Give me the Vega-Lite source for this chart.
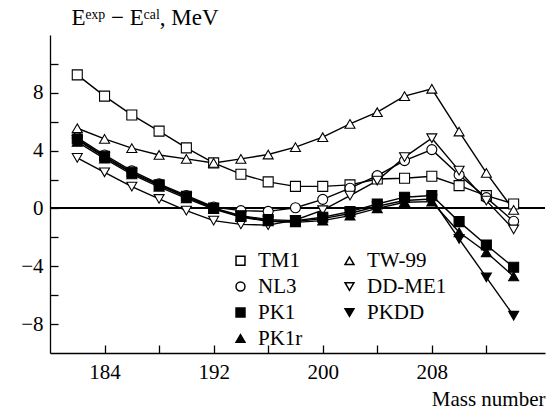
{
  "$schema": "https://vega.github.io/schema/vega-lite/v6.json",
  "width": 495,
  "height": 318,
  "autosize": {"type": "none"},
  "padding": {"left": 50, "top": 35, "right": 4, "bottom": 59},
  "config": {
    "view": {"stroke": null},
    "font": "Liberation Serif"
  },
  "data": {"values": [
    {"model":"TM1","A":182,"dE":9.24},{"model":"TM1","A":184,"dE":7.77},{"model":"TM1","A":186,"dE":6.47},{"model":"TM1","A":188,"dE":5.35},{"model":"TM1","A":190,"dE":4.19},{"model":"TM1","A":192,"dE":3.15},{"model":"TM1","A":194,"dE":2.37},{"model":"TM1","A":196,"dE":1.84},{"model":"TM1","A":198,"dE":1.53},{"model":"TM1","A":200,"dE":1.53},{"model":"TM1","A":202,"dE":1.63},{"model":"TM1","A":204,"dE":2.04},{"model":"TM1","A":206,"dE":2.09},{"model":"TM1","A":208,"dE":2.23},{"model":"TM1","A":210,"dE":1.58},{"model":"TM1","A":212,"dE":0.89},{"model":"TM1","A":214,"dE":0.31},
    {"model":"TW-99","A":182,"dE":5.55},{"model":"TW-99","A":184,"dE":4.81},{"model":"TW-99","A":186,"dE":4.17},{"model":"TW-99","A":188,"dE":3.7},{"model":"TW-99","A":190,"dE":3.43},{"model":"TW-99","A":192,"dE":3.15},{"model":"TW-99","A":194,"dE":3.43},{"model":"TW-99","A":196,"dE":3.73},{"model":"TW-99","A":198,"dE":4.24},{"model":"TW-99","A":200,"dE":4.93},{"model":"TW-99","A":202,"dE":5.85},{"model":"TW-99","A":204,"dE":6.66},{"model":"TW-99","A":206,"dE":7.77},{"model":"TW-99","A":208,"dE":8.28},{"model":"TW-99","A":210,"dE":5.32},{"model":"TW-99","A":212,"dE":2.46},{"model":"TW-99","A":214,"dE":-0.1},
    {"model":"NL3","A":182,"dE":4.9},{"model":"NL3","A":184,"dE":3.7},{"model":"NL3","A":186,"dE":2.6},{"model":"NL3","A":188,"dE":1.7},{"model":"NL3","A":190,"dE":0.9},{"model":"NL3","A":192,"dE":0.1},{"model":"NL3","A":194,"dE":-0.15},{"model":"NL3","A":196,"dE":-0.2},{"model":"NL3","A":198,"dE":0.05},{"model":"NL3","A":200,"dE":0.63},{"model":"NL3","A":202,"dE":1.4},{"model":"NL3","A":204,"dE":2.27},{"model":"NL3","A":206,"dE":3.31},{"model":"NL3","A":208,"dE":4.07},{"model":"NL3","A":210,"dE":2.32},{"model":"NL3","A":212,"dE":0.75},{"model":"NL3","A":214,"dE":-0.89},
    {"model":"DD-ME1","A":182,"dE":3.5},{"model":"DD-ME1","A":184,"dE":2.5},{"model":"DD-ME1","A":186,"dE":1.51},{"model":"DD-ME1","A":188,"dE":0.66},{"model":"DD-ME1","A":190,"dE":-0.15},{"model":"DD-ME1","A":192,"dE":-0.84},{"model":"DD-ME1","A":194,"dE":-1.1},{"model":"DD-ME1","A":196,"dE":-1.15},{"model":"DD-ME1","A":198,"dE":-0.8},{"model":"DD-ME1","A":200,"dE":-0.12},{"model":"DD-ME1","A":202,"dE":0.89},{"model":"DD-ME1","A":204,"dE":1.93},{"model":"DD-ME1","A":206,"dE":3.55},{"model":"DD-ME1","A":208,"dE":4.86},{"model":"DD-ME1","A":210,"dE":2.62},{"model":"DD-ME1","A":212,"dE":0.54},{"model":"DD-ME1","A":214,"dE":-1.45},
    {"model":"PK1","A":182,"dE":4.81},{"model":"PK1","A":184,"dE":3.61},{"model":"PK1","A":186,"dE":2.5},{"model":"PK1","A":188,"dE":1.63},{"model":"PK1","A":190,"dE":0.84},{"model":"PK1","A":192,"dE":0.03},{"model":"PK1","A":194,"dE":-0.5},{"model":"PK1","A":196,"dE":-0.77},{"model":"PK1","A":198,"dE":-0.84},{"model":"PK1","A":200,"dE":-0.61},{"model":"PK1","A":202,"dE":-0.22},{"model":"PK1","A":204,"dE":0.31},{"model":"PK1","A":206,"dE":0.78},{"model":"PK1","A":208,"dE":0.89},{"model":"PK1","A":210,"dE":-0.91},{"model":"PK1","A":212,"dE":-2.53},{"model":"PK1","A":214,"dE":-4.07},
    {"model":"PKDD","A":182,"dE":4.75},{"model":"PKDD","A":184,"dE":3.55},{"model":"PKDD","A":186,"dE":2.45},{"model":"PKDD","A":188,"dE":1.6},{"model":"PKDD","A":190,"dE":0.78},{"model":"PKDD","A":192,"dE":0.0},{"model":"PKDD","A":194,"dE":-0.55},{"model":"PKDD","A":196,"dE":-0.85},{"model":"PKDD","A":198,"dE":-0.9},{"model":"PKDD","A":200,"dE":-0.7},{"model":"PKDD","A":202,"dE":-0.35},{"model":"PKDD","A":204,"dE":0.15},{"model":"PKDD","A":206,"dE":0.55},{"model":"PKDD","A":208,"dE":0.65},{"model":"PKDD","A":210,"dE":-2.11},{"model":"PKDD","A":212,"dE":-4.77},{"model":"PKDD","A":214,"dE":-7.42},
    {"model":"PK1r","A":182,"dE":4.6},{"model":"PK1r","A":184,"dE":3.45},{"model":"PK1r","A":186,"dE":2.35},{"model":"PK1r","A":188,"dE":1.5},{"model":"PK1r","A":190,"dE":0.7},{"model":"PK1r","A":192,"dE":-0.05},{"model":"PK1r","A":194,"dE":-0.6},{"model":"PK1r","A":196,"dE":-0.89},{"model":"PK1r","A":198,"dE":-0.96},{"model":"PK1r","A":200,"dE":-0.84},{"model":"PK1r","A":202,"dE":-0.5},{"model":"PK1r","A":204,"dE":0.01},{"model":"PK1r","A":206,"dE":0.43},{"model":"PK1r","A":208,"dE":0.47},{"model":"PK1r","A":210,"dE":-1.65},{"model":"PK1r","A":212,"dE":-3.03},{"model":"PK1r","A":214,"dE":-4.7}
  ]},
  "encoding": {
    "x": {"field": "A", "type": "quantitative", "scale": {"domain": [180, 216.3], "nice": false, "zero": false},
      "axis": {"values": [184, 188, 192, 196, 200, 204, 208, 212], "labelExpr": "datum.value % 8 == 0 ? datum.label : ''", "tickSize": -8, "labelPadding": 16, "title": "Mass number", "titleAnchor": "end", "titleAlign": "right", "titleX": 495, "titleY": 52, "titleBaseline": "alphabetic", "labelFlush": false, "grid": false,
        "domainColor": "black", "domainWidth": 1.3, "tickColor": "black", "tickWidth": 1.3, "labelColor": "black", "titleColor": "black", "labelFont": "Liberation Serif", "titleFont": "Liberation Serif", "labelFontSize": 21, "titleFontSize": 21, "titleFontWeight": "normal"}},
    "y": {"field": "dE", "type": "quantitative", "scale": {"domain": [-10, 12], "nice": false, "zero": false},
      "axis": {"values": [-8, -6, -4, -2, 0, 2, 4, 6, 8, 10], "labelExpr": "datum.value % 4 == 0 ? (datum.value < 0 ? '−' + abs(datum.value) : '' + datum.value) : ''", "tickSize": -8, "labelPadding": 15, "title": "Eᵉˣᵖ − Eᶜᵃˡ, MeV", "titleAngle": 0, "titleAlign": "left", "titleBaseline": "alphabetic", "titleX": 21, "titleY": -11, "labelFlush": false, "grid": false,
        "domainColor": "black", "domainWidth": 1.3, "tickColor": "black", "tickWidth": 1.3, "labelColor": "black", "titleColor": "black", "labelFont": "Liberation Serif", "titleFont": "Liberation Serif", "labelFontSize": 21, "titleFontSize": 23, "titleFontWeight": "normal"}}
  },
  "layer": [
    {"mark": {"type": "rule", "color": "black", "strokeWidth": 1.3}, "encoding": {"x": {"datum": 180}, "x2": {"datum": 216.3}, "y": {"datum": 0}}},
    {"mark": {"type": "line", "color": "black", "strokeWidth": 1.4}, "encoding": {"detail": {"field": "model"}}},
    {"mark": {"type": "point", "stroke": "black", "strokeWidth": 1.1, "opacity": 1, "filled": false},
      "encoding": {
        "shape": {"field": "model", "type": "nominal", "scale": {"domain": ["TM1", "NL3", "PK1", "PK1r", "TW-99", "DD-ME1", "PKDD"], "range": ["square", "circle", "square", "triangle-up", "triangle-up", "triangle-down", "triangle-down"]},
          "legend": {"title": null, "orient": "none", "legendX": 180, "legendY": 215, "columns": 2, "columnPadding": 36, "rowPadding": 4, "labelFont": "Liberation Serif", "labelFontSize": 21, "labelColor": "black", "symbolSize": 80, "labelOffset": 7,
            "encode": {"symbols": {"update": {"stroke": {"value": "black"}, "strokeWidth": {"value": 1}, "opacity": {"value": 1}, "fill": {"signal": "indexof(['PK1','PK1r','PKDD'], datum.value) >= 0 ? 'black' : 'white'"}}}}}},
        "fill": {"field": "model", "type": "nominal", "legend": null, "scale": {"domain": ["TM1", "NL3", "PK1", "PK1r", "TW-99", "DD-ME1", "PKDD"], "range": ["white", "white", "black", "black", "white", "white", "black"]}},
        "size": {"value": 100}
      }}
  ]
}
